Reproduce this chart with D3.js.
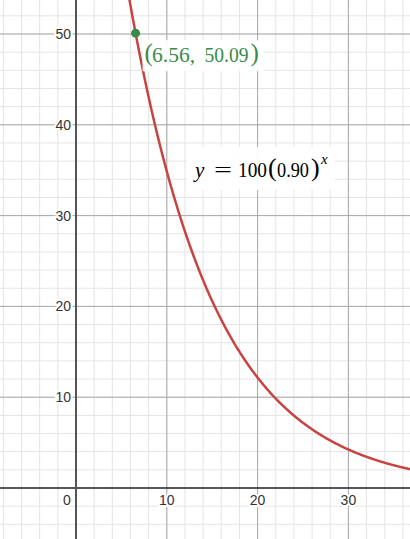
<!DOCTYPE html>
<html><head><meta charset="utf-8">
<script src="https://cdn.jsdelivr.net/npm/d3@7"></script>
<style>html,body{margin:0;padding:0;background:#fff;overflow:hidden}</style>
</head><body>
<svg id="c" width="410" height="539"></svg>
<script>
// data
const xTicks = [0, 10, 20, 30];
const yTicks = [10, 20, 30, 40, 50];
const base = 100, rate = 0.90;
const pointX = [6.56];
const pointY = [50.09];
const pointText = ["6.56,", "50.09"];

const W = 410, H = 539;
const ppu = 9.08, ox = 76, oy = 488;
const x = d3.scaleLinear().domain([-ox/ppu, (W-ox)/ppu]).range([0, W]);
const y = d3.scaleLinear().domain([oy/ppu, (oy-H)/ppu]).range([0, H]);
const svg = d3.select("#c");

// minor grid
const minorX = d3.range(-8, 38, 2), minorY = d3.range(-6, 56, 2);
svg.append("g").selectAll("line").data(minorX).join("line")
  .attr("x1", d=>x(d)).attr("x2", d=>x(d)).attr("y1",0).attr("y2",H)
  .attr("stroke","#e4e4e4").attr("stroke-width",1);
svg.append("g").selectAll("line").data(minorY).join("line")
  .attr("y1", d=>y(d)).attr("y2", d=>y(d)).attr("x1",0).attr("x2",W)
  .attr("stroke","#e4e4e4").attr("stroke-width",1);
// major grid
svg.append("g").selectAll("line").data(xTicks.filter(d=>d!==0)).join("line")
  .attr("x1", d=>x(d)).attr("x2", d=>x(d)).attr("y1",0).attr("y2",H)
  .attr("stroke","#a8a8a8").attr("stroke-width",1);
svg.append("g").selectAll("line").data(yTicks).join("line")
  .attr("y1", d=>y(d)).attr("y2", d=>y(d)).attr("x1",0).attr("x2",W)
  .attr("stroke","#a8a8a8").attr("stroke-width",1);
// axes
svg.append("line").attr("x1",0).attr("x2",W).attr("y1",y(0)).attr("y2",y(0))
  .attr("stroke","#222").attr("stroke-width",1.5);
svg.append("line").attr("x1",x(0)).attr("x2",x(0)).attr("y1",0).attr("y2",H)
  .attr("stroke","#555").attr("stroke-width",2);

// tick labels
const lab = svg.append("g").attr("font-family","Arial, 'Liberation Sans', sans-serif")
  .attr("font-size",14).attr("fill","#333");
lab.selectAll("text.yl").data(yTicks).join("text").attr("class","yl")
  .attr("x", x(0)-5).attr("y", d=>y(d)+5).attr("text-anchor","end")
  .attr("stroke","#fff").attr("stroke-width",4).attr("paint-order","stroke")
  .text(d=>d);
lab.selectAll("text.xl").data(xTicks).join("text").attr("class","xl")
  .attr("x", d=> d===0 ? x(0)-9 : x(d)).attr("y", y(0)+17).attr("text-anchor","middle")
  .attr("stroke","#fff").attr("stroke-width",4).attr("paint-order","stroke")
  .text(d=>d);

// curve
const xs = d3.range(x.domain()[0], x.domain()[1]+0.05, 0.05);
const line = d3.line().x(d=>x(d)).y(d=>y(base*Math.pow(rate,d)));
svg.append("path").datum(xs.filter(d=>base*Math.pow(rate,d) < 70)).attr("d", line)
  .attr("fill","none").attr("stroke","#c74440").attr("stroke-width",2.5);

// point
svg.selectAll("circle.pt").data(pointX).join("circle").attr("class","pt")
  .attr("cx", d=>x(d)).attr("cy", (d,i)=>y(pointY[i])).attr("r",4.5).attr("fill","#388c46");

// point label
const px = x(pointX[0]), py = y(pointY[0]);
const pl = svg.append("g").attr("font-family","'Liberation Serif','DejaVu Serif',serif").attr("fill","#388c46");
pl.append("rect").attr("x", px+7).attr("y", py+7).attr("width",121).attr("height",31).attr("fill","#fff").attr("opacity",0.92);
pl.append("text").attr("x", px+9).attr("y", py+28).attr("font-size",25).text("(");
pl.append("text").attr("x", px+16.5).attr("y", py+29).attr("font-size",20)
  .attr("textLength",43).attr("lengthAdjust","spacingAndGlyphs").text(pointText[0]);
pl.append("text").attr("x", px+69).attr("y", py+29).attr("font-size",20)
  .attr("textLength",44).attr("lengthAdjust","spacingAndGlyphs").text(pointText[1]);
pl.append("text").attr("x", px+115).attr("y", py+28).attr("font-size",25).text(")");

// equation
const eq = svg.append("g").attr("font-family","'Liberation Serif','DejaVu Serif',serif").attr("fill","#000");
eq.append("rect").attr("x",187).attr("y",147).attr("width",148).attr("height",43).attr("fill","#fff").attr("opacity",0.92);
eq.append("text").attr("x",195).attr("y",177).attr("font-size",21).attr("font-style","italic").text("y");
eq.append("text").attr("x",214).attr("y",177).attr("font-size",21).attr("textLength",18).attr("lengthAdjust","spacingAndGlyphs").text("=");
eq.append("text").attr("x",238).attr("y",177).attr("font-size",20).attr("textLength",29).attr("lengthAdjust","spacingAndGlyphs").text("100");
eq.append("text").attr("x",268).attr("y",176).attr("font-size",26).text("(");
eq.append("text").attr("x",277).attr("y",177).attr("font-size",20).attr("textLength",32).attr("lengthAdjust","spacingAndGlyphs").text("0.90");
eq.append("text").attr("x",311).attr("y",176).attr("font-size",26).text(")");
eq.append("text").attr("x",321).attr("y",164).attr("font-size",15).attr("font-style","italic").text("x");
</script>
</body></html>
